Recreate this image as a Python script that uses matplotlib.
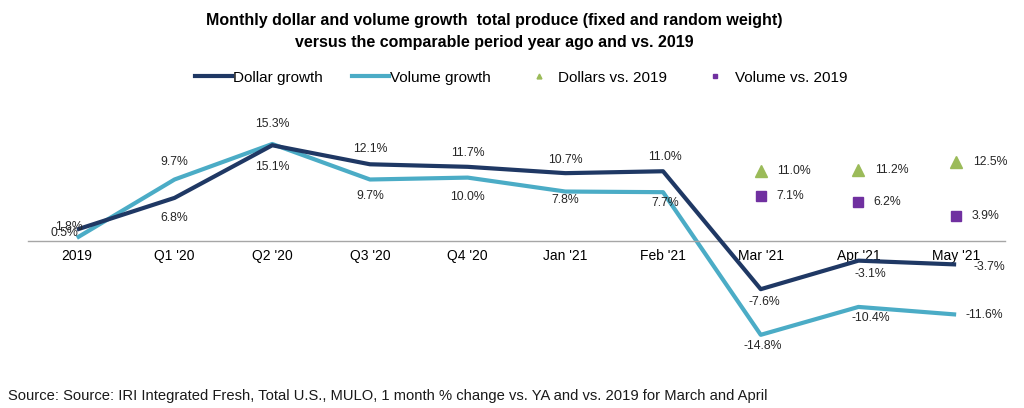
import matplotlib
matplotlib.use("Agg")
import matplotlib.pyplot as plt
from matplotlib.lines import Line2D

plt.rcParams['font.family'] = ['Liberation Sans', 'DejaVu Sans']

categories = ["2019", "Q1 '20", "Q2 '20", "Q3 '20", "Q4 '20", "Jan '21", "Feb '21", "Mar '21", "Apr '21", "May '21"]
dollar_growth = [1.8, 6.8, 15.1, 12.1, 11.7, 10.7, 11.0, -7.6, -3.1, -3.7]
volume_growth = [0.5, 9.7, 15.3, 9.7, 10.0, 7.8, 7.7, -14.8, -10.4, -11.6]
vs2019_idx = [7, 8, 9]
dollars_vs_2019 = [11.0, 11.2, 12.5]
volume_vs_2019 = [7.1, 6.2, 3.9]

# label offsets in pixels (dx, dy), dy positive = up
dollar_off = [(-8, 3), (0, -20), (0, -22), (0, 15), (0, 14), (0, 13), (2, 14), (4, -13), (12, -13), (33, -3)]
volume_off = [(-12, 5), (0, 17), (0, 20), (0, -17), (0, -19), (0, -8), (2, -11), (2, -11), (12, -11), (28, 0)]

navy = "#1f3864"
teal = "#4bacc6"
green = "#9bbb59"
purple = "#7030a0"
txt = '#262626'

fig = plt.figure(figsize=(10.24, 4.08), dpi=100)
ax = fig.add_axes([28 / 1024, 1 - 345.6 / 408, (1005 - 28) / 1024, (345.6 - 114.2) / 408])

x = list(range(len(categories)))
ax.plot(x, dollar_growth, color=navy, lw=3, solid_capstyle='butt', zorder=3)
ax.plot(x, volume_growth, color=teal, lw=3, solid_capstyle='butt', zorder=2)
ax.plot(vs2019_idx, dollars_vs_2019, ls='none', marker='^', ms=8.5, color=green)
ax.plot(vs2019_idx, volume_vs_2019, ls='none', marker='s', ms=7, color=purple)

px = 0.72
for i, (v, off) in enumerate(zip(dollar_growth, dollar_off)):
    ax.annotate(f"{v:.1f}%", (i, v), xytext=(off[0] * px, off[1] * px), textcoords='offset points',
                ha='center', va='center', fontsize=8.8, color=txt)
for i, (v, off) in enumerate(zip(volume_growth, volume_off)):
    ax.annotate(f"{v:.1f}%", (i, v), xytext=(off[0] * px, off[1] * px), textcoords='offset points',
                ha='center', va='center', fontsize=8.8, color=txt)
for i, v in zip(vs2019_idx, dollars_vs_2019):
    ax.annotate(f"{v:.1f}%", (i, v), xytext=(12, 0), textcoords='offset points',
                ha='left', va='center', fontsize=8.8, color=txt)
for i, v in zip(vs2019_idx, volume_vs_2019):
    ax.annotate(f"{v:.1f}%", (i, v), xytext=(11, 0), textcoords='offset points',
                ha='left', va='center', fontsize=8.8, color=txt)

ax.set_xlim(-0.5, 9.5)
ax.set_ylim(-16.5, 20)
ax.set_xticks(x)
ax.set_xticklabels(categories, fontsize=8.3, color=txt)
ax.tick_params(axis='x', length=0, pad=6)
ax.set_yticks([])
for s in ['top', 'right', 'left']:
    ax.spines[s].set_visible(False)
ax.spines['bottom'].set_position(('data', 0))
ax.spines['bottom'].set_color('#a6a6a6')
ax.spines['bottom'].set_linewidth(1.0)
ax.patch.set_visible(False)

handles = [
    Line2D([], [], color=navy, lw=3),
    Line2D([], [], color=teal, lw=3),
    Line2D([], [], ls='none', marker='^', ms=3.5, color=green),
    Line2D([], [], ls='none', marker='s', ms=3.5, color=purple),
]
labels = ["Dollar growth", "Volume growth", "Dollars vs. 2019", "Volume vs. 2019"]
fig.legend(handles, labels, loc='center', bbox_to_anchor=(0.509, 0.81), ncol=4, frameon=False,
           fontsize=11, handlelength=2.4, handletextpad=0.1, columnspacing=1.9)

fig.text(0.483, 1 - 20 / 408, "Monthly dollar and volume growth  total produce (fixed and random weight)",
         ha='center', va='center', fontsize=11.5, fontweight='bold')
fig.text(0.483, 1 - 42 / 408, "versus the comparable period year ago and vs. 2019",
         ha='center', va='center', fontsize=11.5, fontweight='bold')
fig.text(8 / 1024, 1 - 396 / 408,
         "Source: Source: IRI Integrated Fresh, Total U.S., MULO, 1 month % change vs. YA and vs. 2019 for March and April",
         ha='left', va='center', fontsize=10.6, color='#1a1a1a')

fig.savefig("out.png", dpi=100)
